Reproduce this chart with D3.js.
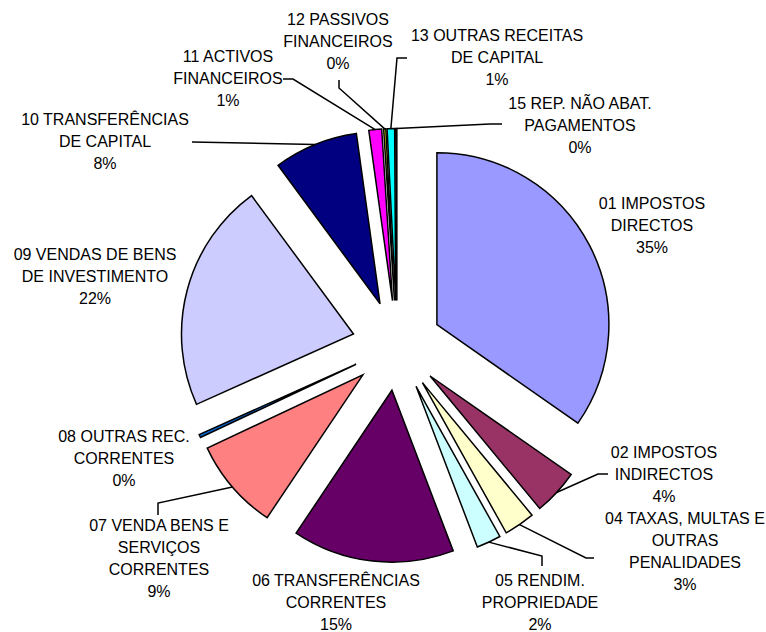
<!DOCTYPE html>
<html>
<head>
<meta charset="utf-8">
<script src="https://cdn.jsdelivr.net/npm/d3@7"></script>
<style>
  body { margin: 0; background: #fff; }
  #chart text { font-family: "Liberation Sans", Arial, sans-serif; font-size: 16px; fill: #000; }
</style>
</head>
<body>
<div id="chart"></div>
<script>
// categories (label lines) and shares
var categories = [
  ["01 IMPOSTOS", "DIRECTOS"],
  ["02 IMPOSTOS", "INDIRECTOS"],
  ["04 TAXAS, MULTAS E", "OUTRAS", "PENALIDADES"],
  ["05 RENDIM.", "PROPRIEDADE"],
  ["06 TRANSFERÊNCIAS", "CORRENTES"],
  ["07 VENDA BENS E", "SERVIÇOS", "CORRENTES"],
  ["08 OUTRAS REC.", "CORRENTES"],
  ["09 VENDAS DE BENS", "DE INVESTIMENTO"],
  ["10 TRANSFERÊNCIAS", "DE CAPITAL"],
  ["11 ACTIVOS", "FINANCEIROS"],
  ["12 PASSIVOS", "FINANCEIROS"],
  ["13 OUTRAS RECEITAS", "DE CAPITAL"],
  ["15 REP. NÃO ABAT.", "PAGAMENTOS"]
];
var values = [34.7, 4.3, 2.9, 2.3, 15.2, 8.6, 0.3, 21.6, 7.9, 1.2, 0.2, 0.7, 0.1];
var colors = ["#9999FF", "#993366", "#FFFFCC", "#CCFFFF", "#660066", "#FF8080",
              "#0066CC", "#CCCCFF", "#000080", "#FF00FF", "#FFFF00", "#00FFFF", "#800080"];

// label layout: centre of first text line, and leader line bend points (null = no leader)
var labelPos = [
  [652, 203], [664, 452], [685, 518], [540, 580], [336, 580], [159, 525], [124, 436],
  [95, 254], [105, 119], [228, 56], [338, 19], [497, 35], [580, 103]
];
var leaders = [
  null,
  [[598, 474], [608, 474]],
  [[586, 558], [594, 558]],
  [[542, 556], [542, 566]],
  null,
  [[158, 503], [158, 515]],
  null,
  null,
  [[192, 142]],
  [[293, 79], [283, 79]],
  [[339, 88], [339, 80]],
  [[397, 58], [407, 58]],
  [[490, 124], [502, 124]]
];

function draw() {
  var width = 766, height = 632;
  var cx = 397, cy = 345.5, radius = 172, explode = 45, lineH = 22;

  var svg = d3.select("#chart").append("svg")
      .attr("width", width)
      .attr("height", height);

  var total = d3.sum(values);
  var pct = d3.format(".0%");

  var pie = d3.pie().sort(null).value(function(d) { return d; });
  var arcs = pie(values);
  var arc = d3.arc().innerRadius(0).outerRadius(radius);

  function offset(d) {
    var a = (d.startAngle + d.endAngle) / 2;
    return [Math.sin(a) * explode, -Math.cos(a) * explode];
  }

  var g = svg.append("g").attr("transform", "translate(" + cx + "," + cy + ")");

  g.selectAll("path.slice")
      .data(arcs)
    .enter().append("path")
      .attr("class", "slice")
      .attr("transform", function(d) { var o = offset(d); return "translate(" + o[0] + "," + o[1] + ")"; })
      .attr("d", arc)
      .style("fill", function(d, i) { return colors[i]; })
      .style("stroke", "#000")
      .style("stroke-width", 1.5)
      .style("stroke-linejoin", "miter");

  // leader lines from the outer edge of each slice
  var line = d3.line();
  arcs.forEach(function(d, i) {
    if (!leaders[i]) return;
    var a = (d.startAngle + d.endAngle) / 2;
    var start = [cx + Math.sin(a) * (radius + explode), cy - Math.cos(a) * (radius + explode)];
    svg.append("path")
        .attr("d", line([start].concat(leaders[i])))
        .style("fill", "none")
        .style("stroke", "#000")
        .style("stroke-width", 1.5);
  });

  // labels
  arcs.forEach(function(d, i) {
    var lines = categories[i].concat([pct(d.value / total)]);
    var t = svg.append("text")
        .attr("text-anchor", "middle");
    lines.forEach(function(s, k) {
      t.append("tspan")
          .attr("x", labelPos[i][0])
          .attr("y", labelPos[i][1] + 6 + k * lineH)
          .text(s);
    });
  });
}
draw();
</script>
</body>
</html>
